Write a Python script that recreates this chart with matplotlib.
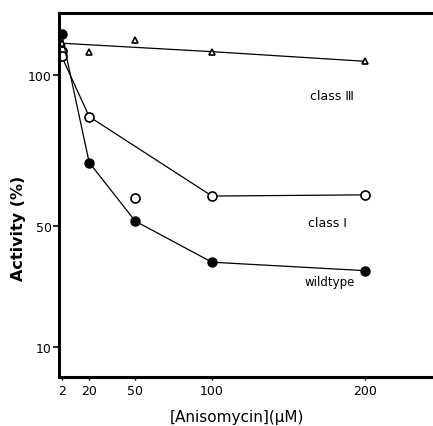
import matplotlib.pyplot as plt
import numpy as np

# anisomycin concentration (uM) and activity (%)
wt_x = [2, 20, 50, 100, 200]
wt_y = [113.6, 71.0, 51.6, 38.0, 35.2]

class1_x = [2, 2, 20, 50, 100, 200]
class1_y = [108.0, 106.2, 86.2, 59.2, 59.9, 60.3]
class1_line_x = [2, 20, 100, 200]
class1_line_y = [106.2, 86.2, 59.9, 60.3]

class3_x = [2, 20, 50, 100, 200]
class3_y = [110.5, 107.5, 111.5, 107.7, 104.5]
class3_line_x = [2, 100, 200]
class3_line_y = [110.5, 107.7, 104.5]

xticks = [2, 20, 50, 100, 200]
yticks = [10, 50, 100]

fig = plt.figure(figsize=(4.33, 4.27), dpi=100)
ax = fig.add_axes([58.5 / 433, (427 - 378) / 427, 1 - 58.5 / 433, (378 - 14) / 427])

ax.plot(class3_line_x, class3_line_y, color='black', lw=0.9)
ax.plot(class3_x, class3_y, ls='none', marker='^', ms=4.5, mfc='white', mec='black', mew=1.2)

ax.plot(class1_line_x, class1_line_y, color='black', lw=0.9)
ax.plot(class1_x, class1_y, ls='none', marker='o', ms=6.5, mfc='white', mec='black', mew=1.2)

ax.plot(wt_x, wt_y, color='black', lw=0.9, marker='o', ms=6.5, mfc='black', mec='black')

ax.set_xlim(0, 244)
ax.set_ylim(0, 120.5)
ax.set_xticks(xticks)
ax.set_xticklabels([str(t) for t in xticks])
ax.set_yticks(yticks)
ax.set_yticklabels([str(t) for t in yticks])
ax.tick_params(axis='y', direction='out', length=4, width=1.2, labelsize=9, pad=1)
ax.tick_params(axis='x', direction='out', length=2, width=1, labelsize=9, pad=3)

for s in ['left', 'bottom', 'top']:
    ax.spines[s].set_linewidth(2.2)
ax.spines['right'].set_visible(False)

ax.text(178, 93.2, 'class Ⅲ', ha='center', va='center', fontsize=9)
ax.text(175, 51, 'class Ⅰ', ha='center', va='center', fontsize=9)
ax.text(177, 31.6, 'wildtype', ha='center', va='center', fontsize=8.5)

ax.set_ylabel('Activity (%)', fontsize=11.5, fontweight='bold')
ax.yaxis.set_label_coords(-0.086, 0.41)
ax.set_xlabel('[Anisomycin](μM)', fontsize=11)
ax.xaxis.set_label_coords(0.477, -0.088)

fig.savefig('out.png', dpi=100)
